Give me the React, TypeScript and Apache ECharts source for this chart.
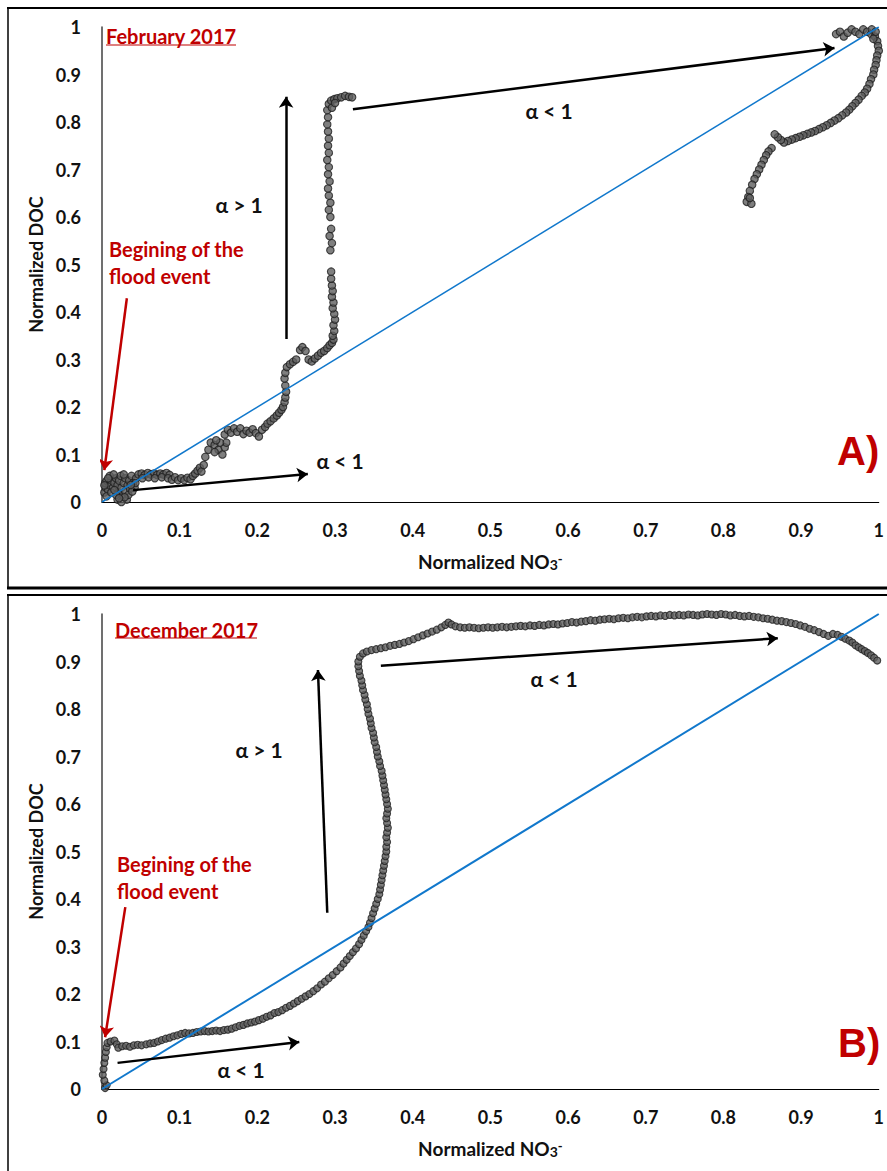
import React, { useEffect, useRef } from "react";
import * as echarts from "echarts";

// ---------- Data ----------
const yTicks = [0, 0.1, 0.2, 0.3, 0.4, 0.5, 0.6, 0.7, 0.8, 0.9, 1];
const xTicks = [0, 0.1, 0.2, 0.3, 0.4, 0.5, 0.6, 0.7, 0.8, 0.9, 1];

// Panel A – February 2017 (normalized NO3-, normalized DOC)
const febPoints: number[][] = [
  [0.003, 0.02], [0.005, 0.03], [0.004, 0.04], [0.006, 0.045], [0.008, 0.025], [0.01, 0.035], [0.012, 0.045], [0.01, 0.055],
  [0.014, 0.03], [0.016, 0.04], [0.018, 0.05], [0.02, 0.035], [0.022, 0.02], [0.022, 0.045], [0.024, 0.055], [0.025, 0.03],
  [0.026, 0.012], [0.028, 0.04], [0.03, 0.05], [0.03, 0.022], [0.032, 0.005], [0.033, 0.035], [0.035, 0.045], [0.036, 0.028],
  [0.038, 0.055], [0.04, 0.04], [0.042, 0.03], [0.044, 0.05], [0.02, 0.005], [0.025, 0.0], [0.018, 0.015], [0.006, 0.012],
  [0.003, 0.035], [0.028, 0.058], [0.015, 0.058], [0.034, 0.015], [0.012, 0.02], [0.008, 0.05], [0.039, 0.022], [0.029, 0.01],
  [0.022, 0.008], [0.016, 0.025], [0.043, 0.04], [0.037, 0.036],
  [0.047, 0.058], [0.051, 0.06], [0.055, 0.057], [0.059, 0.061], [0.063, 0.058], [0.067, 0.06], [0.071, 0.057], [0.075, 0.06],
  [0.079, 0.058], [0.083, 0.061], [0.087, 0.057], [0.052, 0.05], [0.06, 0.052], [0.068, 0.05], [0.077, 0.052], [0.085, 0.05],
  [0.09, 0.047], [0.094, 0.052], [0.098, 0.046], [0.102, 0.05], [0.106, 0.046], [0.11, 0.051], [0.114, 0.048], [0.117, 0.055],
  [0.12, 0.06], [0.123, 0.066], [0.126, 0.072], [0.128, 0.064], [0.131, 0.078],
  [0.133, 0.095], [0.137, 0.11], [0.14, 0.125], [0.145, 0.12], [0.15, 0.11], [0.155, 0.1], [0.158, 0.115], [0.16, 0.125],
  [0.145, 0.105], [0.152, 0.125], [0.147, 0.13],
  [0.158, 0.142], [0.162, 0.152], [0.166, 0.146], [0.17, 0.155], [0.174, 0.148], [0.178, 0.155], [0.182, 0.143], [0.186, 0.15],
  [0.19, 0.146], [0.194, 0.153], [0.198, 0.145], [0.202, 0.138], [0.206, 0.152], [0.21, 0.158],
  [0.213, 0.165], [0.217, 0.17], [0.221, 0.176], [0.225, 0.182], [0.228, 0.188], [0.231, 0.194], [0.233, 0.2], [0.235, 0.21],
  [0.236, 0.22], [0.237, 0.232], [0.236, 0.245], [0.235, 0.26], [0.236, 0.272], [0.238, 0.284], [0.242, 0.29], [0.246, 0.295],
  [0.25, 0.3], [0.255, 0.32], [0.258, 0.326], [0.262, 0.318], [0.266, 0.3], [0.27, 0.296], [0.274, 0.302], [0.278, 0.308],
  [0.282, 0.314], [0.286, 0.318], [0.29, 0.324], [0.293, 0.33], [0.296, 0.335], [0.298, 0.342],
  [0.297, 0.35], [0.299, 0.36], [0.298, 0.372], [0.3, 0.384], [0.299, 0.396], [0.297, 0.408], [0.298, 0.42], [0.296, 0.432],
  [0.297, 0.444], [0.296, 0.456], [0.295, 0.47], [0.295, 0.485], [0.294, 0.53], [0.296, 0.545], [0.293, 0.56], [0.295, 0.575],
  [0.294, 0.6], [0.292, 0.615], [0.294, 0.63], [0.292, 0.645], [0.291, 0.66], [0.293, 0.675], [0.291, 0.69], [0.292, 0.705],
  [0.29, 0.72], [0.292, 0.735], [0.291, 0.75], [0.292, 0.765], [0.291, 0.78], [0.29, 0.795], [0.291, 0.81], [0.29, 0.825],
  [0.292, 0.838], [0.295, 0.845], [0.299, 0.848], [0.303, 0.85], [0.308, 0.852], [0.313, 0.855], [0.318, 0.853], [0.322, 0.852],
  [0.296, 0.83], [0.3, 0.84],
  [0.945, 0.985], [0.95, 0.99], [0.955, 0.98], [0.96, 0.988], [0.965, 0.995], [0.97, 0.99], [0.975, 0.985], [0.98, 0.995],
  [0.985, 0.99], [0.99, 0.985], [0.995, 0.98], [0.998, 0.97], [0.999, 0.96], [1.0, 0.95], [0.998, 0.94], [0.997, 0.93],
  [0.996, 0.92], [0.994, 0.91], [0.993, 0.9], [0.99, 0.89], [0.988, 0.88], [0.985, 0.87], [0.982, 0.862], [0.978, 0.855],
  [0.974, 0.847], [0.97, 0.84], [0.966, 0.833], [0.962, 0.826], [0.958, 0.82], [0.953, 0.814], [0.948, 0.808], [0.943, 0.803],
  [0.938, 0.798], [0.933, 0.793], [0.928, 0.789], [0.923, 0.785], [0.918, 0.781], [0.913, 0.778], [0.908, 0.775], [0.903, 0.772],
  [0.898, 0.769], [0.893, 0.766], [0.888, 0.763], [0.883, 0.76], [0.878, 0.757], [0.874, 0.762], [0.87, 0.768], [0.866, 0.774],
  [0.862, 0.745], [0.858, 0.738], [0.855, 0.73], [0.852, 0.72], [0.849, 0.71], [0.846, 0.7], [0.843, 0.69], [0.84, 0.68],
  [0.837, 0.668], [0.834, 0.655], [0.832, 0.642], [0.83, 0.632], [0.836, 0.628], [0.834, 0.64], [0.991, 0.995], [0.996, 0.99],
  [0.993, 0.975],
];

// Panel B – December 2017
const decPoints: number[][] = [
  [0.004, 0.002], [0.006, 0.008], [0.003, 0.018], [0.001, 0.03], [0.002, 0.042], [0.003, 0.055], [0.004, 0.066], [0.005, 0.078],
  [0.006, 0.088], [0.007, 0.097], [0.011, 0.1], [0.016, 0.102], [0.019, 0.094], [0.021, 0.087], [0.026, 0.09], [0.031, 0.091],
  [0.036, 0.089], [0.041, 0.092], [0.046, 0.093], [0.051, 0.092], [0.057, 0.094], [0.062, 0.096], [0.067, 0.097], [0.072, 0.1],
  [0.077, 0.103], [0.082, 0.106], [0.087, 0.108], [0.092, 0.111], [0.097, 0.113], [0.102, 0.116], [0.107, 0.118], [0.112, 0.117],
  [0.117, 0.118], [0.122, 0.12], [0.127, 0.121], [0.132, 0.122], [0.137, 0.121], [0.142, 0.122], [0.147, 0.123], [0.152, 0.122],
  [0.157, 0.124], [0.162, 0.125], [0.167, 0.127], [0.172, 0.13], [0.177, 0.133], [0.182, 0.135], [0.187, 0.138], [0.192, 0.14],
  [0.197, 0.142], [0.202, 0.145], [0.207, 0.148], [0.212, 0.152], [0.217, 0.155], [0.222, 0.16], [0.227, 0.162], [0.232, 0.166],
  [0.237, 0.171], [0.242, 0.175], [0.247, 0.18], [0.252, 0.185], [0.257, 0.19], [0.262, 0.195], [0.267, 0.2], [0.272, 0.206],
  [0.277, 0.212], [0.282, 0.22], [0.287, 0.226], [0.292, 0.233], [0.297, 0.24], [0.302, 0.248], [0.307, 0.256], [0.311, 0.264],
  [0.315, 0.272], [0.319, 0.28], [0.323, 0.288], [0.327, 0.296], [0.331, 0.305], [0.334, 0.314], [0.337, 0.323], [0.34, 0.332],
  [0.343, 0.341], [0.345, 0.35], [0.347, 0.36], [0.349, 0.37], [0.351, 0.38], [0.353, 0.39], [0.355, 0.4], [0.357, 0.41],
  [0.358, 0.42], [0.359, 0.43], [0.36, 0.44], [0.361, 0.45], [0.362, 0.46], [0.363, 0.47], [0.364, 0.48], [0.365, 0.49],
  [0.366, 0.5], [0.366, 0.51], [0.367, 0.52], [0.366, 0.53], [0.367, 0.54], [0.368, 0.55], [0.367, 0.56], [0.366, 0.57],
  [0.367, 0.58], [0.368, 0.59], [0.367, 0.6], [0.366, 0.61], [0.365, 0.62], [0.364, 0.63], [0.363, 0.64], [0.362, 0.65],
  [0.361, 0.66], [0.36, 0.67], [0.358, 0.68], [0.357, 0.69], [0.355, 0.7], [0.354, 0.71], [0.353, 0.72], [0.351, 0.73],
  [0.35, 0.74], [0.349, 0.75], [0.347, 0.76], [0.346, 0.77], [0.345, 0.78], [0.343, 0.79], [0.342, 0.8], [0.341, 0.81],
  [0.339, 0.82], [0.338, 0.83], [0.336, 0.84], [0.335, 0.85], [0.334, 0.86], [0.332, 0.87], [0.331, 0.88], [0.33, 0.89],
  [0.33, 0.9], [0.332, 0.91], [0.336, 0.917], [0.341, 0.921], [0.347, 0.924], [0.353, 0.926], [0.359, 0.928], [0.365, 0.93],
  [0.371, 0.933], [0.377, 0.935], [0.383, 0.937], [0.389, 0.94], [0.395, 0.943], [0.401, 0.947], [0.407, 0.951], [0.413, 0.955],
  [0.419, 0.959], [0.425, 0.963], [0.431, 0.967], [0.437, 0.972], [0.442, 0.977], [0.446, 0.982], [0.45, 0.978], [0.455, 0.974],
  [0.461, 0.972], [0.467, 0.971], [0.473, 0.972], [0.479, 0.971], [0.485, 0.97], [0.491, 0.971], [0.497, 0.972], [0.503, 0.971],
  [0.509, 0.972], [0.515, 0.973], [0.521, 0.972], [0.527, 0.973], [0.533, 0.974], [0.539, 0.975], [0.545, 0.974], [0.551, 0.976],
  [0.557, 0.975], [0.563, 0.977], [0.569, 0.976], [0.575, 0.978], [0.581, 0.979], [0.587, 0.978], [0.593, 0.98], [0.599, 0.981],
  [0.605, 0.983], [0.611, 0.982], [0.617, 0.984], [0.623, 0.985], [0.629, 0.987], [0.635, 0.986], [0.641, 0.988], [0.647, 0.989],
  [0.653, 0.99], [0.659, 0.989], [0.665, 0.991], [0.671, 0.992], [0.677, 0.991], [0.683, 0.993], [0.689, 0.994], [0.695, 0.993],
  [0.701, 0.995], [0.707, 0.996], [0.713, 0.995], [0.719, 0.997], [0.725, 0.996], [0.731, 0.998], [0.737, 0.997], [0.743, 0.998],
  [0.749, 0.997], [0.755, 0.999], [0.761, 0.998], [0.767, 0.997], [0.773, 0.999], [0.779, 1.0], [0.785, 0.999], [0.791, 0.998],
  [0.797, 1.0], [0.803, 0.999], [0.809, 0.997], [0.815, 0.998], [0.821, 0.996], [0.827, 0.995], [0.833, 0.996], [0.839, 0.994],
  [0.845, 0.993], [0.851, 0.991], [0.857, 0.99], [0.863, 0.988], [0.869, 0.986], [0.875, 0.985], [0.881, 0.983], [0.887, 0.981],
  [0.893, 0.979], [0.899, 0.976], [0.905, 0.973], [0.911, 0.969], [0.917, 0.966], [0.923, 0.962], [0.929, 0.958], [0.935, 0.954],
  [0.941, 0.958], [0.947, 0.956], [0.952, 0.952], [0.957, 0.948], [0.962, 0.944], [0.966, 0.94], [0.97, 0.934], [0.974, 0.93],
  [0.978, 0.926], [0.982, 0.922], [0.986, 0.918], [0.99, 0.913], [0.994, 0.908], [0.998, 0.902],
];

// 1:1 reference line
const oneToOne: number[][] = [[0, 0], [1, 1]];

// Annotation arrows (data coordinates: start -> end)
const febArrows: number[][][] = [
  [[0.04, 0.025], [0.265, 0.059]],
  [[0.237, 0.343], [0.237, 0.853]],
  [[0.323, 0.827], [0.943, 0.956]],
];
const febStartArrow: number[][] = [[0.032, 0.429], [0.003, 0.067]];
const decArrows: number[][][] = [
  [[0.02, 0.055], [0.254, 0.099]],
  [[0.29, 0.371], [0.278, 0.882]],
  [[0.359, 0.891], [0.87, 0.949]],
];
const decStartArrow: number[][] = [[0.03, 0.383], [0.004, 0.109]];

// ---------- Styles ----------
const FONT = 'Lato, "Noto Sans", "DejaVu Sans", sans-serif';
const RED = "#C00000";
const INK = "#111";
const W = 887;
const H = 1171;

function makeAxes(gridIndex: number) {
  const x = {
    type: "value",
    gridIndex,
    min: 0,
    max: 1,
    interval: 0.1,
    name: "{a|Normalized NO}{b|3}{c|-}",
    nameLocation: "middle",
    nameGap: 50,
    nameTextStyle: {
      rich: {
        a: { fontSize: 19, fontWeight: "bold", fontFamily: FONT, color: INK },
        b: { fontSize: 14, fontWeight: "bold", fontFamily: FONT, color: INK, verticalAlign: "bottom" },
        c: { fontSize: 13, fontWeight: "bold", fontFamily: FONT, color: INK, verticalAlign: "top" },
      },
    },
    axisLine: { show: true, onZero: false, lineStyle: { color: "#000", width: 1 } },
    axisTick: { show: false },
    splitLine: { show: false },
    axisLabel: {
      margin: 19,
      fontSize: 18,
      fontWeight: "bold",
      fontFamily: FONT,
      color: INK,
      formatter: (v: number) => String(Math.round(v * 10) / 10),
    },
  };
  const y = {
    type: "value",
    gridIndex,
    min: 0,
    max: 1,
    interval: 0.1,
    name: "Normalized DOC",
    nameLocation: "middle",
    nameGap: 55,
    nameTextStyle: { fontSize: 18, fontWeight: "bold", fontFamily: FONT, color: INK },
    axisLine: { show: true, onZero: false, lineStyle: { color: "#404040", width: 1.5 } },
    axisTick: { show: false },
    splitLine: { show: false },
    axisLabel: {
      margin: 21,
      fontSize: 18,
      fontWeight: "bold",
      fontFamily: FONT,
      color: INK,
      formatter: (v: number) => String(Math.round(v * 10) / 10),
    },
  };
  return { x, y };
}

function panelSeries(idx: number, pts: number[][], arrows: number[][][], startArrow: number[][], size: number, blueW: number) {
  return [
    {
      type: "scatter",
      xAxisIndex: idx,
      yAxisIndex: idx,
      data: pts,
      symbol: "circle",
      symbolSize: size,
      itemStyle: { color: "#5f5f5f", borderColor: "#1e1e1e", borderWidth: 1.1 },
      z: 3,
    },
    {
      type: "line",
      xAxisIndex: idx,
      yAxisIndex: idx,
      data: oneToOne,
      symbol: "none",
      lineStyle: { color: "#1178CC", width: blueW },
      z: 4,
    },
    {
      type: "lines",
      coordinateSystem: "cartesian2d",
      xAxisIndex: idx,
      yAxisIndex: idx,
      symbol: ["none", "arrow"],
      symbolSize: 11,
      lineStyle: { color: "#000", width: 2.5, opacity: 1 },
      data: arrows.map((c) => ({ coords: c })),
      z: 5,
    },
    {
      type: "lines",
      coordinateSystem: "cartesian2d",
      xAxisIndex: idx,
      yAxisIndex: idx,
      symbol: ["none", "arrow"],
      symbolSize: 11,
      lineStyle: { color: RED, width: 2.5, opacity: 1 },
      data: [{ coords: startArrow }],
      z: 5,
    },
  ];
}

function txt(x: number, y: number, text: string, size: number, color: string, align = "left", family = FONT) {
  return {
    type: "text",
    x,
    y,
    style: { text, fontSize: size, fontWeight: "bold", fontFamily: family, fill: color, align, verticalAlign: "middle" },
    z: 10,
  };
}

function line(x1: number, y1: number, x2: number, y2: number, w: number, color = "#000") {
  return { type: "line", shape: { x1, y1, x2, y2 }, style: { stroke: color, lineWidth: w }, z: 10 };
}

export default function App() {
  const ref = useRef<HTMLDivElement>(null);
  useEffect(() => {
    if (!ref.current) return;
    const chart = echarts.init(ref.current, null, { renderer: "svg" });
    const a = makeAxes(0);
    const b = makeAxes(1);
    chart.setOption({
      animation: false,
      backgroundColor: "#fff",
      grid: [
        { left: 102, top: 27, width: 777, height: 475 },
        { left: 102, top: 614, width: 777, height: 475 },
      ],
      xAxis: [a.x, b.x],
      yAxis: [a.y, b.y],
      series: [
        ...panelSeries(0, febPoints, febArrows, febStartArrow, 7.5, 1.5),
        ...panelSeries(1, decPoints, decArrows, decStartArrow, 7, 2),
      ],
      graphic: [
        // panel frames
        line(7, 8, W, 8, 2),
        line(8, 7, 8, 589, 1.5),
        line(7, 588, W, 588, 3),
        line(7, 595, W, 595, 2),
        line(8, 594, 8, H, 1.5),
        // panel A texts
        txt(106, 36, "February 2017", 20, RED),
        line(106, 45, 236, 45, 1.2, RED),
        txt(109, 249, "Begining of the", 20, RED),
        txt(109, 276, "flood event", 20, RED),
        txt(239, 204, "α > 1", 21, INK, "center"),
        txt(549, 110, "α < 1", 21, INK, "center"),
        txt(340, 460, "α < 1", 21, INK, "center"),
        txt(837, 451, "A)", 40, RED, "left", '"Liberation Sans", Arial, sans-serif'),
        // panel B texts
        txt(115, 630, "December 2017", 20, RED),
        line(115, 638, 257, 638, 1.2, RED),
        txt(117, 864, "Begining of the", 20, RED),
        txt(117, 891, "flood event", 20, RED),
        txt(259, 749, "α > 1", 21, INK, "center"),
        txt(554, 678, "α < 1", 21, INK, "center"),
        txt(241, 1069, "α < 1", 21, INK, "center"),
        txt(838, 1043, "B)", 40, RED, "left", '"Liberation Sans", Arial, sans-serif'),
      ],
    });
    return () => chart.dispose();
  }, []);
  return (
    <div
      ref={ref}
      style={{ position: "absolute", left: 0, top: 0, width: W, height: H, background: "#fff" }}
    />
  );
}
